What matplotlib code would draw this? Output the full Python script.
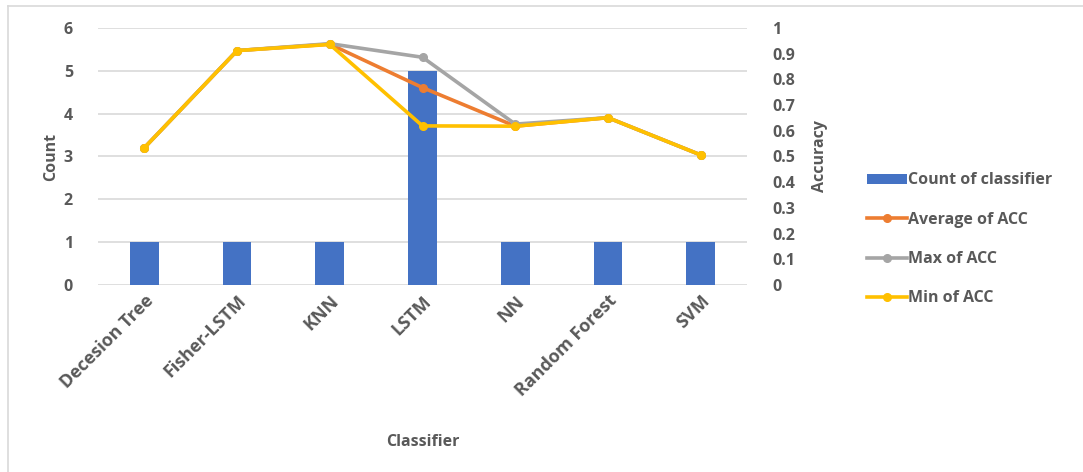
"""
Classifier count with accuracy summary (combo bar + line chart).
"""
import matplotlib
matplotlib.use("Agg")
import matplotlib.pyplot as plt
from matplotlib.lines import Line2D
from matplotlib.patches import Patch
import numpy as np

plt.rcParams["font.family"] = ["Open Sans", "DejaVu Sans"]
plt.rcParams["font.weight"] = "bold"
plt.rcParams["axes.labelweight"] = "bold"

classifiers = ["Decesion Tree", "Fisher-LSTM", "KNN", "LSTM", "NN", "Random Forest", "SVM"]
count = [1, 1, 1, 5, 1, 1, 1]
acc_avg = [0.534, 0.912, 0.937, 0.768, 0.618, 0.651, 0.506]
acc_max = [0.534, 0.912, 0.939, 0.886, 0.626, 0.651, 0.506]
acc_min = [0.534, 0.912, 0.936, 0.619, 0.618, 0.651, 0.506]

txt = "#595959"
grid = "#D9D9D9"
c_bar, c_avg, c_max, c_min = "#4472C4", "#ED7D31", "#A5A5A5", "#FFC000"

fig = plt.figure(figsize=(10.83, 4.72), dpi=100)
ax = fig.add_axes([0.0905, 0.3962, 0.5993, 0.5445])
x = np.arange(len(classifiers))

ax.bar(x, count, width=0.31, color=c_bar, zorder=2)
ax.set_ylim(0, 6)
ax.set_xlim(-0.5, len(classifiers) - 0.5)
ax.set_yticks(range(7))
ax.yaxis.grid(True, color=grid, lw=1.2, zorder=0)
ax.set_axisbelow(True)
ax.set_xticks(x)
ax.set_xticklabels(classifiers, rotation=45, ha="right", rotation_mode="anchor")
ax.tick_params(axis="y", length=0, colors=txt, labelsize=11.5, pad=18)
ax.tick_params(axis="x", length=0, colors=txt, labelsize=13, pad=5)
for s in ax.spines.values():
    s.set_visible(False)
ax.set_ylabel("Count", color=txt, fontsize=11.5, labelpad=3)
ax.set_xlabel("Classifier", color=txt, fontsize=11.5, labelpad=24)

ax2 = ax.twinx()
kw = dict(lw=2.6, marker="o", ms=5.5, solid_joinstyle="round")
ax2.plot(x, acc_avg, color=c_avg, **kw)
ax2.plot(x, acc_max, color=c_max, **kw)
ax2.plot(x, acc_min, color=c_min, **kw)
ax2.set_ylim(0, 1)
ax2.set_yticks(np.round(np.arange(0, 1.01, 0.1), 1))
ax2.set_yticklabels(["0"] + ["%.1f" % v for v in np.arange(0.1, 0.95, 0.1)] + ["1"])
ax2.tick_params(length=0, colors=txt, labelsize=11.5, pad=18)
for s in ax2.spines.values():
    s.set_visible(False)
ax2.set_ylabel("Accuracy", color=txt, fontsize=11.5, labelpad=12)

handles = [
    Patch(facecolor=c_bar),
    Line2D([], [], color=c_avg, **kw),
    Line2D([], [], color=c_max, **kw),
    Line2D([], [], color=c_min, **kw),
]
labels = ["Count of classifier", "Average of ACC", "Max of ACC", "Min of ACC"]
leg = fig.legend(handles, labels, loc="upper left", bbox_to_anchor=(0.787, 0.665),
                 frameon=False, fontsize=11.5, handlelength=2.5, handleheight=0.55,
                 handletextpad=0.1, labelspacing=1.45)
for t in leg.get_texts():
    t.set_color(txt)

# chart area border (top and left edges only)
fig.add_artist(Line2D([8 / 1083, 1], [1 - 6 / 472, 1 - 6 / 472], color=grid, lw=1.2))
fig.add_artist(Line2D([8 / 1083, 8 / 1083], [0, 1 - 6 / 472], color=grid, lw=1.2))

fig.savefig("out.png", dpi=100)
